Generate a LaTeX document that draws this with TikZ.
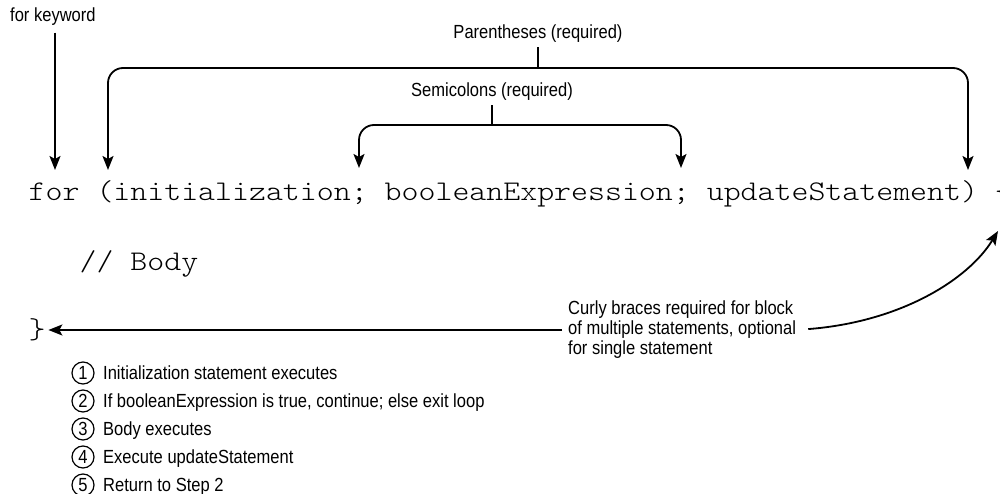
\documentclass[tikz,border=0pt]{standalone}
\usepackage{fontspec}
\usetikzlibrary{arrows.meta,calc}
\newfontfamily\labfont{Liberation Sans}[FakeStretch=0.87]
\newfontfamily\codefont{lmmonolt10-regular}[Extension=.otf,FakeStretch=1.133]
\tikzset{
  lab/.style={font=\labfont\fontsize{19}{20}\selectfont, inner sep=0pt},
  code/.style={font=\codefont\fontsize{28.5}{34}\selectfont, inner sep=0pt, anchor=base west},
  arr/.style={line width=1.8pt, -{Stealth[length=14pt,width=11pt,inset=3pt]}},
  ln/.style={line width=1.8pt},
  num/.style={circle, draw, line width=1.2pt, minimum size=22pt, inner sep=0pt,
              font=\labfont\fontsize{19}{20}\selectfont},
  bracket/.style={arr, rounded corners=15pt}
}
\begin{document}
\begin{tikzpicture}[x=1pt,y=-1pt]
\useasboundingbox (0,0) rectangle (1000,494);

% code
\node[code] (forline) at (28.5,201) {for (initialization; booleanExpression; updateStatement) \{};
\node[code] (body) at (79.35,270) {// Body};
\node[code, inner xsep=2.5pt] (rbrace) at (26,338) {\}};

% labels
\node[lab, anchor=base west] (kw) at (10,21.5) {for keyword};
\node[lab, anchor=base] (paren) at (538,39) {Parentheses (required)};
\node[lab, anchor=base] (semi) at (492,96.5) {Semicolons (required)};
\node[lab, align=left, anchor=west] (note) at (568,330)
  {Curly braces required for block\\of multiple statements, optional\\for single statement};

% targets
\coordinate (forT) at (55,170);
\coordinate (openT) at (108,170);
\coordinate (closeT) at (968,170);
\coordinate (semiA) at (359,168);
\coordinate (semiB) at (681,168);
\coordinate (pJ) at (538,68);
\coordinate (sJ) at (492,125);
\coordinate (lbraceT) at (998,231);

% connectors
\draw[arr, shorten <=7pt] (kw.south -| forT) -- (forT);
\draw[ln, shorten <=4pt] (paren.south) -- (pJ);
\draw[bracket] (pJ) -| (openT);
\draw[bracket] (pJ) -| (closeT);
\draw[ln, shorten <=4.5pt] (semi.south) -- (sJ);
\draw[bracket] (sJ) -| (semiA);
\draw[bracket] (sJ) -| (semiB);
\draw[arr, shorten <=6pt] (note.west) -- (note.west -| rbrace.east);
\draw[arr, shorten <=12pt] (note.east) .. controls (900,322) and (968,280) .. (lbraceT);

% steps
\node[num] (n1) at (83,373) {1};
\node[lab, anchor=base west] (s1) at (103,379.5) {Initialization statement executes};
\node[num] (n2) at (83,401) {2};
\node[lab, anchor=base west] (s2) at (103,407.5) {If booleanExpression is true, continue; else exit loop};
\node[num] (n3) at (83,429) {3};
\node[lab, anchor=base west] (s3) at (103,435.5) {Body executes};
\node[num] (n4) at (83,457) {4};
\node[lab, anchor=base west] (s4) at (103,463.5) {Execute updateStatement};
\node[num] (n5) at (83,485) {5};
\node[lab, anchor=base west] (s5) at (103,491.5) {Return to Step 2};
\end{tikzpicture}
\end{document}
